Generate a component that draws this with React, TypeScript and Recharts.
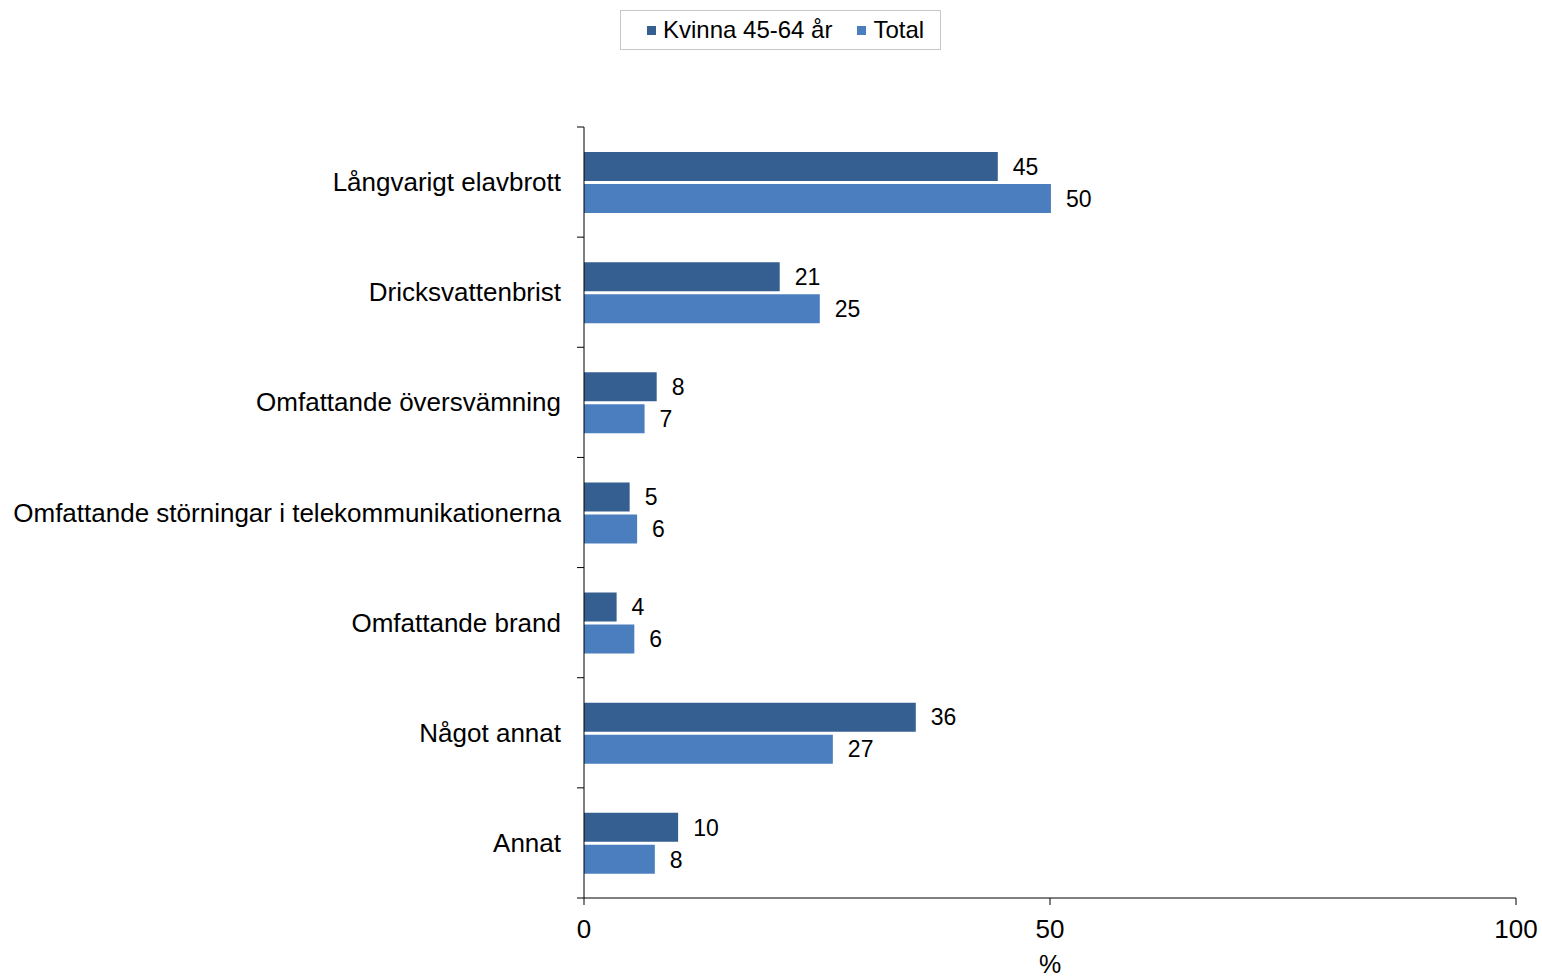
import React from 'react';
import { BarChart, Bar, XAxis, YAxis, LabelList } from 'recharts';

const categories = [
  'Långvarigt elavbrott',
  'Dricksvattenbrist',
  'Omfattande översvämning',
  'Omfattande störningar i telekommunikationerna',
  'Omfattande brand',
  'Något annat',
  'Annat',
];
const kvinnaValues = [44.4, 21.0, 7.8, 4.9, 3.5, 35.6, 10.1];
const totalValues = [50.1, 25.3, 6.5, 5.7, 5.4, 26.7, 7.6];
const kvinnaLabels = ['45', '21', '8', '5', '4', '36', '10'];
const totalLabels = ['50', '25', '7', '6', '6', '27', '8'];
const xTicks = [0, 50, 100];

const data = categories.map((name, i) => ({
  name,
  kvinna: kvinnaValues[i],
  total: totalValues[i],
  kLabel: kvinnaLabels[i],
  tLabel: totalLabels[i],
}));

const FONT = '"Liberation Sans", Arial, sans-serif';
const DARK = '#365F91';
const LIGHT = '#4A7EBE';
const W = 1542;
const H = 979;
const M = { top: 127, right: 26, bottom: 0, left: 0 };
const Y_W = 584;
const X_H = 81;
const BAND = (H - M.top - X_H) / categories.length;

const YTick = (props: any) => {
  const { x, y, payload, index } = props;
  return (
    <g>
      <line x1={x + 16} x2={x + 23} y1={y - BAND / 2} y2={y - BAND / 2} stroke="#000" strokeWidth={1} />
      {index === categories.length - 1 && (
        <line x1={x + 16} x2={x + 23} y1={y + BAND / 2} y2={y + BAND / 2} stroke="#000" strokeWidth={1} />
      )}
      <text x={x} y={y} textAnchor="end" dominantBaseline="central" fontSize={26} fontFamily={FONT} fill="#000">
        {payload.value}
      </text>
    </g>
  );
};

export default function App() {
  return (
    <div style={{ position: 'absolute', left: 0, top: 0, width: W, height: H, background: '#fff' }}>
      <BarChart
        width={W}
        height={H}
        data={data}
        layout="vertical"
        margin={M}
        barSize={29}
        barGap={3}
      >
        <XAxis
          type="number"
          domain={[0, 100]}
          ticks={xTicks}
          height={X_H}
          stroke="#000"
          tickSize={7}
          tickMargin={15}
          tick={{ fontSize: 26, fontFamily: FONT, fill: '#000' }}
          label={{ value: '%', position: 'insideBottom', offset: 6, fontSize: 25, fontFamily: FONT, fill: '#000' }}
        />
        <YAxis
          type="category"
          dataKey="name"
          width={Y_W}
          stroke="#000"
          tickLine={false}
          tickSize={7}
          tickMargin={16}
          interval={0}
          tick={<YTick />}
        />
        <Bar dataKey="kvinna" fill={DARK} isAnimationActive={false}>
          <LabelList dataKey="kLabel" position="right" offset={15} fontSize={23} fontFamily={FONT} fill="#000" />
        </Bar>
        <Bar dataKey="total" fill={LIGHT} isAnimationActive={false}>
          <LabelList dataKey="tLabel" position="right" offset={15} fontSize={23} fontFamily={FONT} fill="#000" />
        </Bar>
      </BarChart>
      <div
        style={{
          position: 'absolute',
          left: 620,
          top: 10,
          width: 319,
          height: 38,
          border: '1px solid #c8c8c8',
          display: 'flex',
          alignItems: 'center',
          justifyContent: 'flex-start',
          paddingLeft: 0,
          fontFamily: FONT,
          fontSize: 24,
          color: '#000',
          boxSizing: 'content-box',
        }}
      >
        <span style={{ display: 'inline-block', width: 9, height: 9, background: DARK, marginLeft: 26, marginRight: 7 }} />
        <span>Kvinna 45-64 år</span>
        <span style={{ display: 'inline-block', width: 9, height: 9, background: LIGHT, marginLeft: 25, marginRight: 7 }} />
        <span>Total</span>
      </div>
    </div>
  );
}
